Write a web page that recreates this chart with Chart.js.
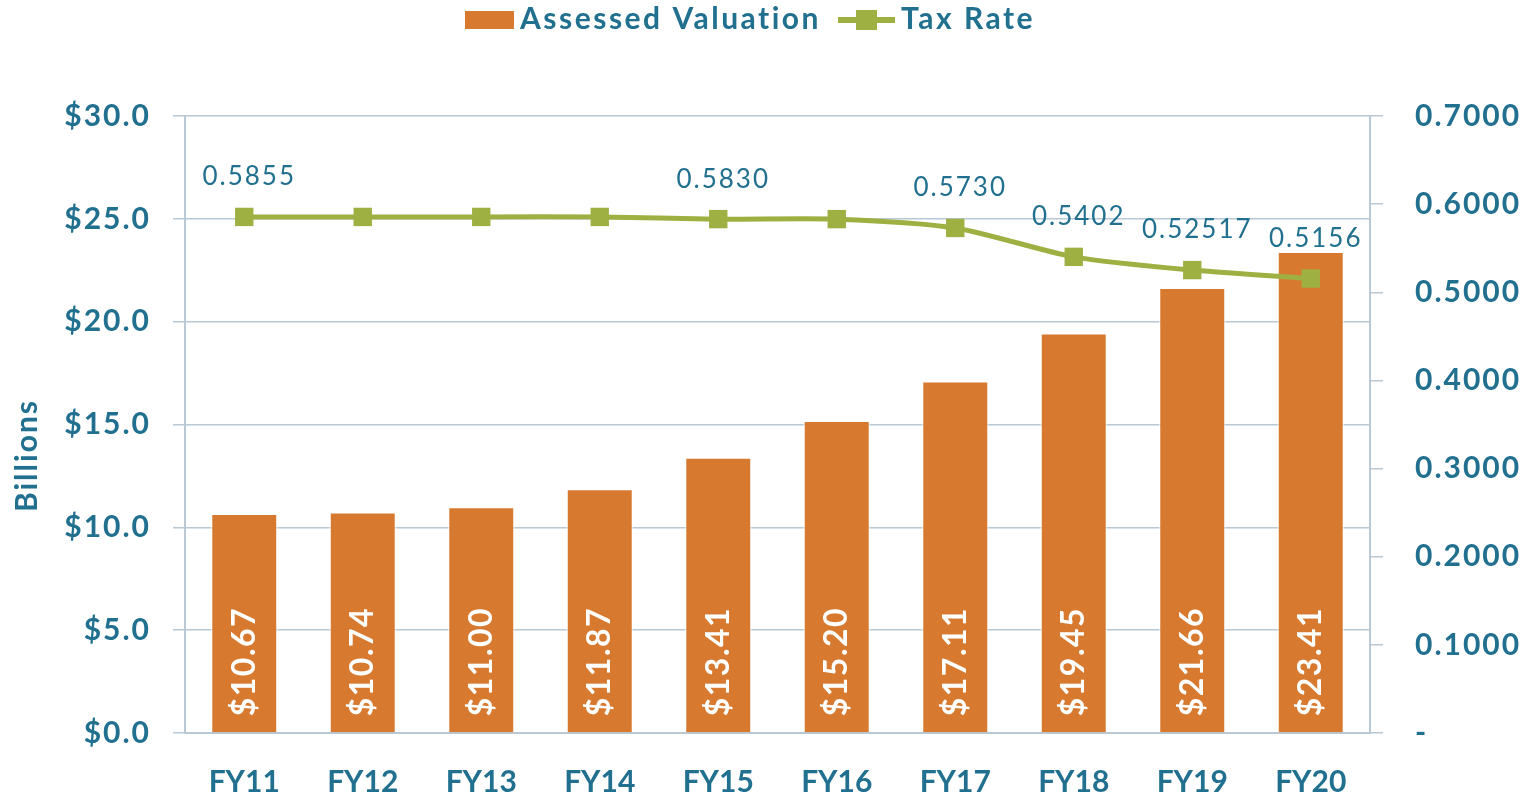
<!DOCTYPE html>
<html>
<head>
<meta charset="utf-8">
<script src="https://cdn.jsdelivr.net/npm/chart.js@4"></script>
<style>
  html, body { margin: 0; padding: 0; background: #fff; }
</style>
</head>
<body>
<canvas id="taxChart" width="1530" height="796"></canvas>
<script>
// data
const years = ['FY11', 'FY12', 'FY13', 'FY14', 'FY15', 'FY16', 'FY17', 'FY18', 'FY19', 'FY20'];
const valuation = [10.67, 10.74, 11.00, 11.87, 13.41, 15.20, 17.11, 19.45, 21.66, 23.41];
const taxRate = [0.5855, 0.5855, 0.5855, 0.5855, 0.5830, 0.5830, 0.5730, 0.5402, 0.52517, 0.5156];
// only the changing rates carry a label
const rateLabels = ['0.5855', '', '', '', '0.5830', '', '0.5730', '0.5402', '0.52517', '0.5156'];

const textColor = '#21708F';
const orange = '#D77A2F';
const green = '#9FB043';
const gridColor = '#B8C8D5';
const fontFamily = 'Lato, "Open Sans", sans-serif';

// the original numbers run a bit wider than Lato, so space them out
const spacing = {
    id: 'spacing',
    beforeDraw(chart) {
        chart.ctx.textRendering = 'optimizeSpeed';
        chart.ctx.letterSpacing = '2px';
    }
};

// value labels: white rotated ones in the bars, rate labels above the line
const valueLabels = {
    id: 'valueLabels',
    afterDatasetsDraw(chart) {
        const ctx = chart.ctx;
        ctx.save();

        const barMeta = chart.getDatasetMeta(1);
        ctx.fillStyle = '#fff';
        ctx.font = 'bold 32px ' + fontFamily;
        ctx.letterSpacing = '1.5px';
        ctx.textAlign = 'left';
        ctx.textBaseline = 'middle';
        barMeta.data.forEach((bar, i) => {
            ctx.save();
            ctx.translate(bar.x, bar.base - 16);
            ctx.rotate(-Math.PI / 2);
            ctx.fillText('$' + valuation[i].toFixed(2), 0, 0);
            ctx.restore();
        });

        const lineMeta = chart.getDatasetMeta(0);
        ctx.fillStyle = textColor;
        ctx.font = '26px ' + fontFamily;
        ctx.letterSpacing = '2px';
        ctx.textAlign = 'center';
        ctx.textBaseline = 'middle';
        lineMeta.data.forEach((pt, i) => {
            if (rateLabels[i]) ctx.fillText(rateLabels[i], pt.x + 5, pt.y - 40);
        });

        ctx.restore();
        // x axis labels (drawn next, ticks.z = 1) use plain spacing
        ctx.letterSpacing = '0px';
    }
};

// legend and axis title, drawn by hand so they sit where the original has them
const legendAndTitle = {
    id: 'legendAndTitle',
    afterDraw(chart) {
        const ctx = chart.ctx;
        const area = chart.chartArea;
        ctx.save();
        ctx.font = 'bold 30px ' + fontFamily;
        ctx.letterSpacing = '2.5px';
        ctx.fillStyle = textColor;
        ctx.textBaseline = 'alphabetic';
        ctx.textAlign = 'left';

        const barText = chart.data.datasets[1].label;
        const lineText = chart.data.datasets[0].label;
        const w1 = ctx.measureText(barText).width;
        const w2 = ctx.measureText(lineText).width;
        const total = 49 + 6 + w1 + 17 + 57 + 6 + w2;
        let x = 750 - total / 2;
        const cy = 20;

        ctx.fillStyle = orange;
        ctx.fillRect(x, cy - 9, 49, 18);
        x += 49 + 6;
        ctx.fillStyle = textColor;
        ctx.fillText(barText, x, cy + 9);
        x += w1 + 17;

        ctx.strokeStyle = green;
        ctx.lineWidth = 6;
        ctx.beginPath();
        ctx.moveTo(x, cy);
        ctx.lineTo(x + 57, cy);
        ctx.stroke();
        ctx.fillStyle = green;
        ctx.fillRect(x + 18, cy - 10, 21, 20);
        x += 57 + 6;
        ctx.fillStyle = textColor;
        ctx.fillText(lineText, x, cy + 9);

        // y axis title
        ctx.letterSpacing = '2px';
        ctx.translate(37, (area.top + area.bottom) / 2 + 31);
        ctx.rotate(-Math.PI / 2);
        ctx.textAlign = 'center';
        ctx.fillText('Billions', 0, 0);
        ctx.restore();
    }
};

const ctx = document.getElementById('taxChart').getContext('2d');

new Chart(ctx, {
    type: 'bar',
    data: {
        labels: years,
        datasets: [{
            type: 'line',
            label: 'Tax Rate',
            data: taxRate,
            yAxisID: 'yRate',
            borderColor: green,
            backgroundColor: green,
            borderWidth: 5,
            tension: 0.25,
            pointStyle: 'rect',
            pointRadius: 13,
            pointBorderWidth: 0,
            pointBackgroundColor: green,
            order: 0,
        }, {
            type: 'bar',
            label: 'Assessed Valuation',
            data: valuation,
            yAxisID: 'y',
            backgroundColor: orange,
            borderColor: 'rgba(255, 255, 255, 0.6)',
            borderWidth: 1.5,
            categoryPercentage: 1,
            barPercentage: 0.565,
            order: 1,
        }],
    },
    options: {
        responsive: false,
        animation: false,
        devicePixelRatio: 1,
        layout: { padding: { top: 116, left: 0, right: 0, bottom: 0 } },
        plugins: {
            tooltip: { enabled: false },
            legend: { display: false },
        },
        scales: {
            x: {
                afterFit(scale) { scale.height = 63; },
                grid: { display: false, drawTicks: false },
                border: { color: gridColor, width: 2 },
                ticks: {
                    z: 1,
                    padding: 31,
                    color: textColor,
                    font: { family: fontFamily, size: 30, weight: 'bold' },
                },
            },
            y: {
                position: 'left',
                min: 0,
                max: 30,
                afterFit(scale) { scale.width = 185; },
                grid: { color: gridColor, lineWidth: 1.5, tickLength: 12 },
                border: { color: gridColor, width: 2 },
                ticks: {
                    stepSize: 5,
                    padding: 22,
                    color: textColor,
                    font: { family: fontFamily, size: 30, weight: 'bold' },
                    callback: v => '$' + v.toFixed(1),
                },
            },
            yRate: {
                position: 'right',
                min: 0,
                max: 0.7,
                afterFit(scale) { scale.width = 160; },
                grid: { drawOnChartArea: false, color: gridColor, lineWidth: 1.5, tickLength: 13 },
                border: { color: gridColor, width: 2 },
                ticks: {
                    stepSize: 0.1,
                    padding: 32,
                    color: textColor,
                    font: { family: fontFamily, size: 30, weight: 'bold' },
                    callback: v => (v === 0 ? '-' : v.toFixed(4)),
                },
            },
        },
    },
    plugins: [spacing, valueLabels, legendAndTitle],
});
</script>
</body>
</html>
